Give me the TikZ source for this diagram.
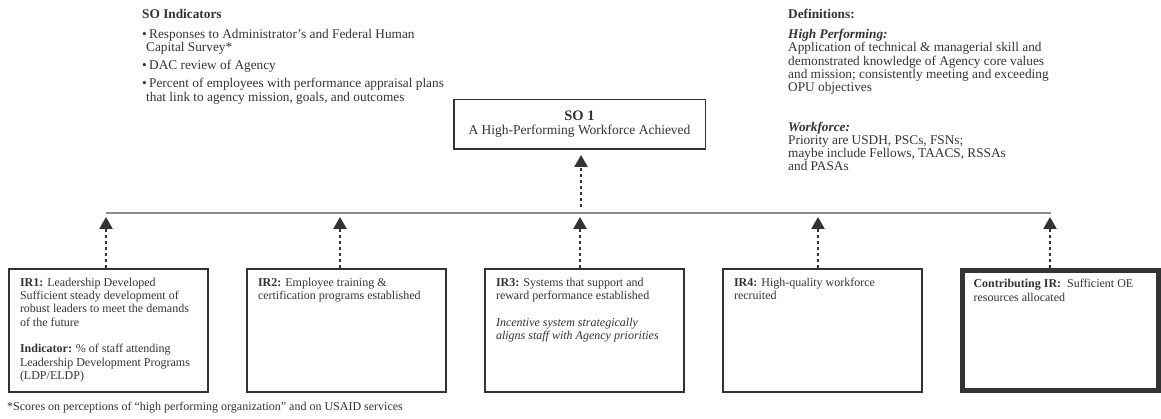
\documentclass[tikz,border=0pt]{standalone}
\usepackage{fontspec}
\setmainfont{Liberation Serif}
\usetikzlibrary{arrows.meta}
\tikzset{
  txt/.style={font=\fontsize{12}{13.3}\selectfont, text=black!80, inner sep=0pt},
  bigtxt/.style={txt, font=\fontsize{13.3}{13.3}\selectfont},
  irbox/.style={txt, draw=black!80, line width=1.5pt, inner xsep=11pt, inner ysep=9pt},
  conn/.style={dash pattern=on 3pt off 3pt, line width=2.4pt, draw=black!80, -{Triangle[length=12pt,width=13pt]}},
}
\newcommand{\irtext}[1]{\parbox[t][105pt][t]{177pt}{\raggedright #1}}
\begin{document}
\begin{tikzpicture}[x=1pt, y=-1pt]
  \useasboundingbox (0,0) rectangle (1161,419);
  % indicators and definitions
  \node[bigtxt, anchor=north west, align=left] (soind) at (142,9) {%
    {\bfseries SO Indicators}\\[6.7pt]
    \makebox[7pt][l]{\textbullet}Responses to Administrator's and Federal Human\\
    \hspace*{4pt}Capital Survey*\\[4.4pt]
    \makebox[7pt][l]{\textbullet}DAC review of Agency\\[5pt]
    \makebox[7pt][l]{\textbullet}Percent of employees with performance appraisal plans\\
    \hspace*{4pt}that link to agency mission, goals, and outcomes};
  \node[bigtxt, anchor=north west, align=left] (defs) at (788,9) {%
    {\bfseries Definitions:}\\[6.7pt]
    {\bfseries\itshape High Performing:}\\
    Application of technical \& managerial skill and\\
    demonstrated knowledge of Agency core values\\
    and mission; consistently meeting and exceeding\\
    OPU objectives\\[26pt]
    {\bfseries\itshape Workforce:}\\
    Priority are USDH, PSCs, FSNs;\\
    maybe include Fellows, TAACS, RSSAs\\
    and PASAs};
  % strategic objective
  \node[txt, draw=black!80, line width=1.5pt, align=center, minimum width=251.5pt, minimum height=49.5pt]
    (so1) at (579.5,124.5) {{\fontsize{14.5}{15}\selectfont\bfseries SO 1}\\[1pt]
    {\fontsize{13.5}{14}\selectfont A High-Performing Workforce Achieved}};
  % intermediate results
  \node[irbox] (ir1) at (108.5,330.5) {\irtext{%
    \textbf{IR1:} Leadership Developed\\
    Sufficient steady development of\\
    robust leaders to meet the demands\\
    of the future\\[13.3pt]
    \textbf{Indicator:} \% of staff attending\\
    Leadership Development Programs\\
    (LDP/ELDP)}};
  \node[irbox] (ir2) at (346.5,330.5) {\irtext{%
    \textbf{IR2:} Employee training \&\\
    certification programs established}};
  \node[irbox] (ir3) at (584.5,330.5) {\irtext{%
    \textbf{IR3:} Systems that support and\\
    reward performance established\\[13.3pt]
    \textit{Incentive system strategically}\\
    \textit{aligns staff with Agency priorities}}};
  \node[irbox] (ir4) at (822.5,330.5) {\irtext{%
    \textbf{IR4:} High-quality workforce\\
    recruited}};
  \node[irbox, line width=5pt] (cir) at (1060.5,330.5) {%
    \parbox[t][102pt][t]{174pt}{\raggedright
    \textbf{Contributing IR:}\ \ Sufficient OE\\
    resources allocated}};
  % bar and arrows
  \coordinate (hl) at (106,213);
  \coordinate (hr) at (1051,213);
  \draw[black!45, line width=1.5pt] (hl) -- (hr);
  \foreach \b/\x in {ir1/106, ir2/340, ir3/580, ir4/818, cir/1050} {
    \coordinate (t-\b) at (\x,213);
    \draw[conn, shorten >=4pt] (\b.north -| t-\b) -- (t-\b);
  }
  \coordinate (t-so) at (581,213);
  \draw[conn, shorten <=6pt, shorten >=5pt] (t-so) -- (so1.south -| t-so);
  % footnote
  \node[txt, anchor=west] (note) at (7,408)
    {*Scores on perceptions of “high performing organization” and on USAID services};
\end{tikzpicture}
\end{document}
